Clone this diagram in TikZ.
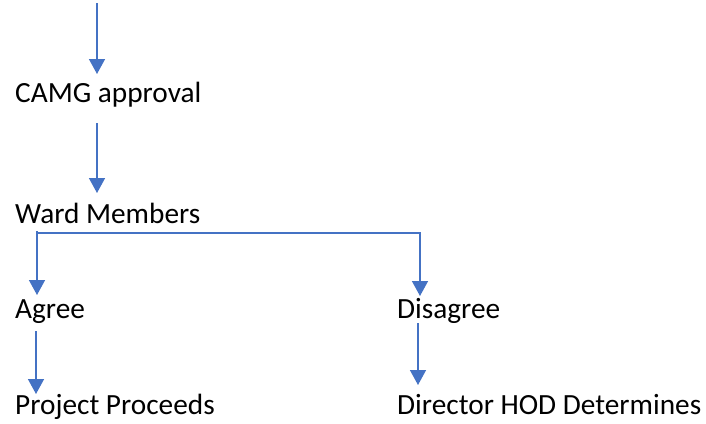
\documentclass[tikz,border=0pt]{standalone}
\usepackage{fontspec}
\setmainfont{Carlito}
\usetikzlibrary{arrows.meta}
\definecolor{arrowblue}{HTML}{4472C4}
\begin{document}
\begin{tikzpicture}[x=1pt,y=-1pt,
  lbl/.style={anchor=base west,inner sep=0pt,font=\fontsize{29.3}{35}\selectfont},
  arr/.style={draw=arrowblue,line width=1.5pt,-{Triangle[width=16pt,length=15pt]}}]
\useasboundingbox (0,0) rectangle (706,423);
\node[lbl] (camg) at (15,102) {CAMG approval};
\node[lbl] (ward) at (15,223) {Ward Members};
\node[lbl] (agree) at (15,318) {Agree};
\node[lbl] (disagree) at (397,318) {Disagree};
\node[lbl] (proj) at (15,414) {Project Proceeds};
\node[lbl] (dir) at (397,414) {Director HOD Determines};
% arrow ends
\coordinate (in0) at (97,3);
\coordinate (in1) at (97,74);
\coordinate (c0) at (97,123);
\coordinate (c1) at (97,193);
\coordinate (w0) at (37,231);
\coordinate (w1) at (37,295);
\coordinate (s0) at (37,233);
\coordinate (s1) at (420,296);
\coordinate (a0) at (36,331);
\coordinate (a1) at (36,394);
\coordinate (d0) at (418,323);
\coordinate (d1) at (418,385);
\draw[arr] (in0) -- (in1);
\draw[arr] (c0) -- (c1);
\draw[arr] (w0) -- (w1);
\draw[arr] (s0) -| (s1);
\draw[arr] (a0) -- (a1);
\draw[arr] (d0) -- (d1);
\end{tikzpicture}
\end{document}
